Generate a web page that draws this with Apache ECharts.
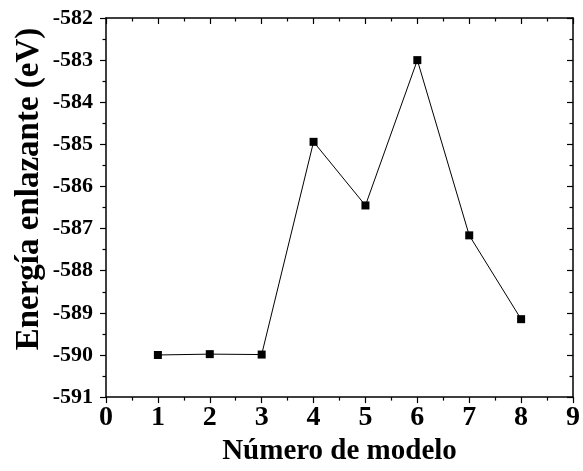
<!DOCTYPE html>
<html>
<head>
<meta charset="utf-8">
<script src="https://cdn.jsdelivr.net/npm/echarts@6/dist/echarts.min.js"></script>
<style>html,body{margin:0;padding:0;background:#fff;}#c{width:583px;height:471px;}</style>
</head>
<body>
<div id="c"></div>
<script>
const modelNumbers = [1, 2, 3, 4, 5, 6, 7, 8];
const bindingEnergy = [-590.0, -589.98, -589.99, -584.94, -586.45, -583.0, -587.16, -589.15];
const xTitle = 'Número de modelo';
const yTitle = 'Energía enlazante (eV)';

const font = '"Liberation Serif", "Times New Roman", serif';
const black = '#000';
const chart = echarts.init(document.getElementById('c'), null, {renderer: 'canvas'});

function axisBase(pos, showLabels, inside) {
  return {
    position: pos,
    axisLine: {show: true, onZero: false, lineStyle: {color: black, width: 1.5}},
    axisTick: {show: true, inside: inside, length: 6, lineStyle: {color: black, width: 1.2}},
    minorTick: {show: true, splitNumber: 2, length: 3.5, lineStyle: {color: black, width: 1.2}},
    splitLine: {show: false},
    minorSplitLine: {show: false},
    axisLabel: {show: showLabels}
  };
}

const series = [{
  type: 'line',
  data: modelNumbers.map((m, i) => [m, bindingEnergy[i]]),
  symbol: 'rect',
  symbolSize: 8,
  itemStyle: {color: black},
  lineStyle: {color: black, width: 1},
  animation: false
}];

chart.setOption({
  animation: false,
  backgroundColor: '#fff',
  grid: {left: 106, right: 7, top: 18, bottom: 71, containLabel: false},
  xAxis: [
    Object.assign(axisBase('bottom', true, false), {
      type: 'value', min: 0, max: 9, interval: 1,
      name: xTitle, nameLocation: 'middle', nameGap: 37,
      nameTextStyle: {color: black, fontFamily: font, fontWeight: 'bold', fontSize: 29},
      axisLabel: {show: true, color: black, fontFamily: font, fontWeight: 'bold', fontSize: 28, margin: 7}
    }),
    Object.assign(axisBase('top', false, true), {type: 'value', min: 0, max: 9, interval: 1})
  ],
  yAxis: [
    Object.assign(axisBase('left', true, false), {
      type: 'value', min: -591, max: -582, interval: 1,
      axisLabel: {show: true, color: black, fontFamily: font, fontWeight: 'bold', fontSize: 22, margin: 13}
    }),
    Object.assign(axisBase('right', false, true), {type: 'value', min: -591, max: -582, interval: 1})
  ],
  graphic: [{
    type: 'text',
    x: 29, y: 189,
    rotation: Math.PI / 2,
    style: {
      text: yTitle,
      fill: black,
      font: 'bold 33px ' + font,
      align: 'center',
      verticalAlign: 'middle'
    }
  }],
  series: series
});
</script>
</body>
</html>
